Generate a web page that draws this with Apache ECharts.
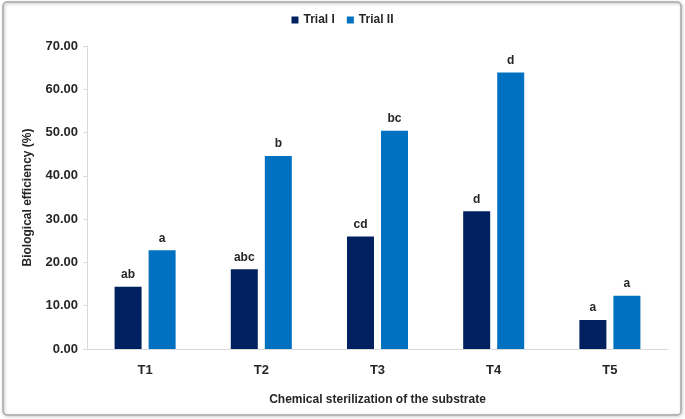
<!DOCTYPE html>
<html><head><meta charset="utf-8">
<script src="https://cdn.jsdelivr.net/npm/echarts@6/dist/echarts.min.js"></script>
<style>html,body{margin:0;padding:0;background:#fff}#c{width:685px;height:419px}</style>
</head><body><div id="c"></div>
<script>
const categories = ['T1','T2','T3','T4','T5'];
const trial1 = [14.4, 18.4, 26.0, 31.8, 6.7];
const trial2 = [22.8, 44.6, 50.4, 63.9, 12.3];
const letters1 = ['ab','abc','cd','d','a'];
const letters2 = ['a','b','bc','d','a'];
const yTicks = [0,10,20,30,40,50,60,70];

const chart = echarts.init(document.getElementById('c'));
const font = 'Liberation Sans, Arial, sans-serif';
chart.setOption({
  animation:false,
  graphic:[{type:'rect',shape:{x:3,y:2,width:678,height:413,r:4},
    style:{fill:'none',stroke:'#a6a6a6',lineWidth:1.5,shadowBlur:3,shadowColor:'rgba(0,0,0,0.3)',shadowOffsetX:1,shadowOffsetY:1},z:-1}],
  legend:{top:9,left:'center',itemWidth:7,itemHeight:7,itemGap:12,icon:'rect',
    textStyle:{fontFamily:font,fontWeight:'bold',fontSize:12,color:'#262626'},
    data:['Trial I','Trial II']},
  grid:{left:87,right:17,top:46,bottom:70},
  xAxis:{type:'category',data:categories,
    axisLine:{lineStyle:{color:'#d9d9d9',width:1}},axisTick:{show:false},
    axisLabel:{fontFamily:font,fontWeight:'bold',fontSize:13,color:'#262626',margin:15},
    name:'Chemical sterilization of the substrate',nameLocation:'middle',nameGap:45,
    nameTextStyle:{fontFamily:font,fontWeight:'bold',fontSize:12,color:'#262626'}},
  yAxis:{type:'value',min:yTicks[0],max:yTicks[yTicks.length-1],interval:10,
    axisLine:{show:true,lineStyle:{color:'#d9d9d9'}},
    axisTick:{show:true,length:4,lineStyle:{color:'#d9d9d9'}},
    splitLine:{show:false},
    axisLabel:{fontFamily:font,fontWeight:'bold',fontSize:13,color:'#262626',margin:9,formatter:v=>v.toFixed(2)},
    name:'Biological efficiency (%)',nameLocation:'middle',nameGap:53,
    nameTextStyle:{fontFamily:font,fontWeight:'bold',fontSize:12,color:'#262626'}},
  series:[
    {name:'Trial I',type:'bar',data:trial1,barWidth:27,barGap:'26%',itemStyle:{color:'#002060'},
     label:{show:true,position:'top',distance:6,formatter:p=>letters1[p.dataIndex],fontFamily:font,fontWeight:'bold',fontSize:12,color:'#262626'}},
    {name:'Trial II',type:'bar',data:trial2,barWidth:27,itemStyle:{color:'#0070c0'},
     label:{show:true,position:'top',distance:6,formatter:p=>letters2[p.dataIndex],fontFamily:font,fontWeight:'bold',fontSize:12,color:'#262626'}}
  ]
});
</script></body></html>
